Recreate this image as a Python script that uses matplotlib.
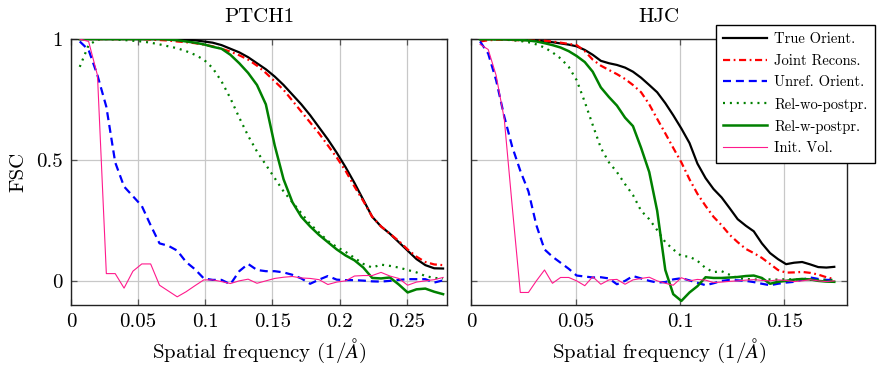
import matplotlib
matplotlib.use("Agg")
import matplotlib.pyplot as plt

plt.rcParams['font.family'] = ['cmr10', 'DejaVu Serif']
plt.rcParams['mathtext.fontset'] = 'cm'
plt.rcParams['axes.formatter.use_mathtext'] = True

# Spatial frequency bins (1/A)
freq_ptch1 = [0.0065, 0.0131, 0.0197, 0.0263, 0.0329, 0.0395, 0.0461, 0.0527, 0.0593, 0.0659,
              0.0725, 0.0791, 0.0857, 0.0923, 0.0989, 0.1055, 0.1121, 0.1187, 0.1253, 0.1319,
              0.1385, 0.1451, 0.1517, 0.1583, 0.1649, 0.1715, 0.1781, 0.1847, 0.1913, 0.1979,
              0.2045, 0.2111, 0.2177, 0.2243, 0.2309, 0.2375, 0.2441, 0.2507, 0.2573, 0.2639,
              0.2705, 0.2771]
freq_hjc = [0.0041, 0.0080, 0.0118, 0.0157, 0.0195, 0.0234, 0.0273, 0.0311, 0.0350, 0.0388,
            0.0427, 0.0466, 0.0504, 0.0543, 0.0581, 0.0620, 0.0659, 0.0697, 0.0736, 0.0774,
            0.0813, 0.0852, 0.0890, 0.0929, 0.0967, 0.1006, 0.1045, 0.1083, 0.1122, 0.1160,
            0.1199, 0.1238, 0.1276, 0.1315, 0.1353, 0.1392, 0.1431, 0.1469, 0.1508, 0.1546,
            0.1585, 0.1624, 0.1662, 0.1701, 0.1739]

# PTCH1 FSC curves
ptch1_true = [1.0, 1.0, 1.0, 1.0, 1.0, 1.0, 1.0, 1.0, 1.0, 1.0,
              0.999, 0.998, 0.997, 0.995, 0.99, 0.985, 0.975, 0.96, 0.945, 0.925,
              0.90, 0.875, 0.845, 0.81, 0.77, 0.73, 0.685, 0.635, 0.585, 0.53,
              0.47, 0.405, 0.335, 0.265, 0.225, 0.195, 0.16, 0.125, 0.09, 0.065,
              0.052, 0.051]
ptch1_joint = [1.0, 1.0, 1.0, 1.0, 1.0, 1.0, 1.0, 1.0, 0.998, 0.996,
               0.994, 0.99, 0.987, 0.983, 0.977, 0.97, 0.96, 0.948, 0.933, 0.915,
               0.89, 0.86, 0.825, 0.79, 0.745, 0.70, 0.655, 0.61, 0.56, 0.51,
               0.455, 0.39, 0.33, 0.265, 0.225, 0.195, 0.165, 0.13, 0.1, 0.078,
               0.068, 0.065]
ptch1_unref = [0.99, 0.955, 0.85, 0.72, 0.49, 0.39, 0.35, 0.31, 0.23, 0.155,
               0.145, 0.125, 0.078, 0.048, 0.01, 0.004, 0.004, -0.014, 0.04, 0.07,
               0.045, 0.04, 0.04, 0.035, 0.025, 0.01, -0.012, 0.005, 0.02, 0.005,
               0.003, 0.003, 0.001, -0.002, -0.003, 0.0, 0.004, 0.007, 0.007, 0.007,
               -0.007, 0.002]
ptch1_rel_wo = [0.885, 0.975, 0.998, 1.0, 0.998, 0.996, 0.993, 0.99, 0.985, 0.978,
                0.97, 0.962, 0.95, 0.935, 0.915, 0.88, 0.825, 0.755, 0.675, 0.60,
                0.535, 0.48, 0.425, 0.37, 0.325, 0.28, 0.235, 0.2, 0.165, 0.14,
                0.12, 0.095, 0.07, 0.055, 0.067, 0.062, 0.055, 0.045, 0.035, 0.02,
                0.012, 0.01]
ptch1_rel_w = [1.0, 1.0, 1.0, 1.0, 1.0, 1.0, 1.0, 1.0, 1.0, 1.0,
               0.998, 0.995, 0.99, 0.985, 0.978, 0.968, 0.96, 0.935, 0.90, 0.86,
               0.81, 0.73, 0.56, 0.42, 0.325, 0.265, 0.225, 0.19, 0.16, 0.13,
               0.105, 0.085, 0.055, 0.012, 0.01, 0.014, -0.015, -0.048, -0.035, -0.032,
               -0.045, -0.055]
ptch1_init = [1.0, 0.99, 0.85, 0.03, 0.03, -0.03, 0.04, 0.07, 0.07, -0.018,
              -0.042, -0.066, -0.045, -0.02, 0.004, 0.004, -0.003, -0.011, 0.0, 0.007,
              -0.01, 0.0, 0.01, 0.015, 0.018, 0.012, 0.01, 0.005, -0.015, -0.005,
              0.0, 0.02, 0.022, 0.022, 0.035, 0.02, 0.01, -0.018, -0.005, 0.0,
              0.005, 0.014]

# HJC FSC curves
hjc_true = [1.0, 1.0, 1.0, 0.999, 0.998, 0.997, 0.996, 0.994, 0.99, 0.987,
            0.982, 0.977, 0.97, 0.955, 0.935, 0.91, 0.9, 0.893, 0.882, 0.865,
            0.84, 0.81, 0.78, 0.735, 0.685, 0.63, 0.57, 0.485, 0.425, 0.38,
            0.345, 0.30, 0.255, 0.228, 0.205, 0.155, 0.115, 0.09, 0.069, 0.075,
            0.078, 0.068, 0.057, 0.055, 0.058]
hjc_joint = [0.99, 0.995, 0.997, 0.997, 0.996, 0.995, 0.994, 0.993, 0.993, 0.99,
             0.985, 0.98, 0.975, 0.95, 0.915, 0.89, 0.872, 0.855, 0.835, 0.81,
             0.78, 0.73, 0.67, 0.61, 0.55, 0.49, 0.42, 0.36, 0.31, 0.265,
             0.23, 0.19, 0.16, 0.132, 0.115, 0.095, 0.07, 0.045, 0.034, 0.035,
             0.037, 0.033, 0.026, 0.015, 0.007]
hjc_unref = [0.99, 0.94, 0.83, 0.68, 0.555, 0.455, 0.37, 0.23, 0.13, 0.1,
             0.075, 0.05, 0.022, 0.018, 0.014, 0.015, 0.01, -0.014, 0.0, 0.02,
             0.01, 0.0, -0.007, -0.005, 0.006, 0.011, 0.002, -0.008, -0.018, -0.01,
             0.0, 0.004, 0.002, 0.0, -0.005, -0.012, -0.018, -0.012, -0.007, -0.004,
             0.005, 0.014, 0.008, 0.004, 0.004]
hjc_rel_wo = [1.0, 1.0, 0.999, 0.998, 0.995, 0.992, 0.987, 0.978, 0.965, 0.945,
              0.92, 0.885, 0.83, 0.74, 0.645, 0.55, 0.49, 0.45, 0.40, 0.355,
              0.29, 0.255, 0.21, 0.16, 0.13, 0.103, 0.1, 0.083, 0.053, 0.036,
              0.04, 0.025, 0.012, 0.008, 0.006, 0.005, 0.006, 0.005, 0.007, 0.006,
              0.005, 0.004, 0.004, 0.004, 0.004]
hjc_rel_w = [0.999, 0.999, 0.999, 0.999, 0.998, 0.996, 0.994, 0.99, 0.983, 0.975,
             0.965, 0.95, 0.93, 0.905, 0.865, 0.80, 0.76, 0.725, 0.675, 0.64,
             0.55, 0.45, 0.29, 0.045, -0.055, -0.083, -0.048, -0.022, 0.015, 0.012,
             0.012, 0.014, 0.016, 0.02, 0.022, 0.012, -0.012, -0.004, 0.0, 0.005,
             0.008, 0.006, 0.0, -0.003, -0.004]
hjc_init = [0.978, 0.957, 0.85, 0.67, 0.31, -0.048, -0.048, 0.0, 0.045, -0.01,
            0.014, 0.014, 0.0, -0.02, 0.017, -0.014, 0.004, 0.006, -0.014, 0.004,
            0.01, 0.015, 0.0, -0.01, -0.018, 0.013, 0.0, 0.006, 0.003, -0.007,
            -0.005, -0.002, 0.0, 0.003, 0.005, 0.002, 0.0, 0.004, 0.002, -0.003,
            0.0, 0.005, 0.0, -0.003, 0.0]

labels = ['True Orient.', 'Joint Recons.', 'Unref. Orient.',
          'Rel-wo-postpr.', 'Rel-w-postpr.', 'Init. Vol.']

styles = [
    dict(color='black', lw=1.6, linestyle='-'),
    dict(color='red', lw=1.6, dashes=(3.2, 1.6, 0.8, 1.6)),
    dict(color='blue', lw=1.6, dashes=(3.6, 2.2)),
    dict(color='#008000', lw=1.6, dashes=(0.9, 2.2)),
    dict(color='#008000', lw=1.8, linestyle='-'),
    dict(color='#ff1a8c', lw=0.8, linestyle='-'),
]

panels = [
    ('PTCH1', freq_ptch1,
     [ptch1_true, ptch1_joint, ptch1_unref, ptch1_rel_wo, ptch1_rel_w, ptch1_init],
     0.28, [0, 0.05, 0.1, 0.15, 0.2, 0.25], ['0', '0.05', '0.1', '0.15', '0.2', '0.25']),
    ('HJC', freq_hjc,
     [hjc_true, hjc_joint, hjc_unref, hjc_rel_wo, hjc_rel_w, hjc_init],
     0.18, [0, 0.05, 0.1, 0.15], ['0', '0.05', '0.1', '0.15']),
]

fs = 15

fig = plt.figure(figsize=(8.79, 3.72), dpi=100)
axes = [fig.add_axes([0.0808, 0.180, 0.4277, 0.715]),
        fig.add_axes([0.5364, 0.180, 0.4272, 0.715])]

handles = []
for i, (ax, (title, freq, curves, xmax, xt, xtl)) in enumerate(zip(axes, panels)):
    for y, st, lab in zip(curves, styles, labels):
        ln, = ax.plot(freq, y, label=lab, zorder=3, **st)
        if i == 0:
            handles.append(ln)
    ax.set_xlim(0, xmax)
    ax.set_ylim(-0.1, 1.0)
    ax.set_xticks(xt)
    ax.set_xticklabels(xtl)
    ax.set_yticks([0, 0.5, 1])
    if i == 0:
        ax.set_yticklabels(['0', '0.5', '1'])
        ax.set_ylabel('FSC', fontsize=fs, labelpad=6)
    else:
        ax.set_yticklabels([])
    ax.grid(True, color='#c8c8c8', lw=0.9, zorder=0)
    ax.set_axisbelow(True)
    ax.tick_params(direction='in', length=4, width=0.9, color='#555555',
                   top=True, right=True, labelsize=fs, pad=6)
    for sp in ax.spines.values():
        sp.set_linewidth(1.0)
        sp.set_color('#222222')
    ax.set_title(title, fontsize=fs, pad=12)
    ax.set_xlabel(r'Spatial frequency $(1/\AA)$', fontsize=fs, labelpad=4)

leg = fig.legend(handles=handles, loc='upper left',
                 bbox_to_anchor=(716 / 879, 1 - 25 / 372),
                 fontsize=10.5, handlelength=3.0, labelspacing=0.55,
                 borderpad=0.5, handletextpad=0.5, borderaxespad=0.0,
                 fancybox=False, framealpha=1.0, edgecolor='black')
leg.get_frame().set_linewidth(1.0)

fig.savefig('out.png', dpi=100)
